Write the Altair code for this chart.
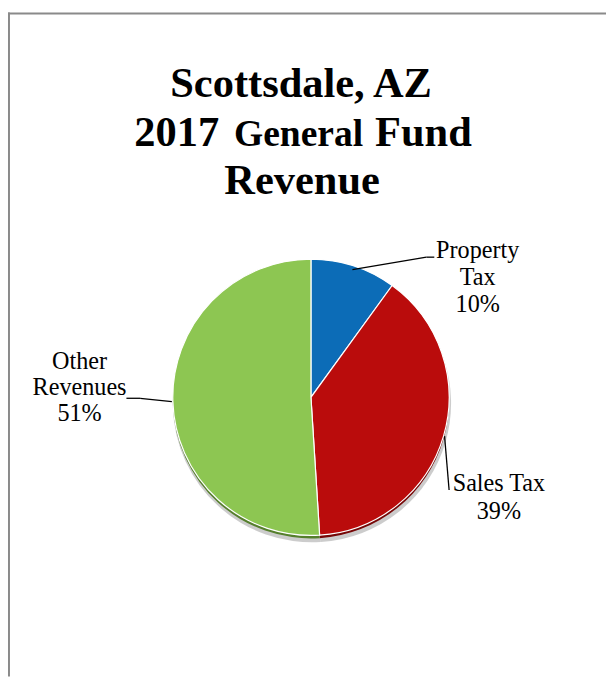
import math
import altair as alt
import pandas as pd

# ---- data ----
categories = ["Property Tax", "Sales Tax", "Other Revenues"]
shares = [10, 39, 51]
label_texts = ["Property\nTax\n10%", "Sales Tax\n39%", "Other\nRevenues\n51%"]
title_parts = ["Scottsdale, AZ", "2017", "General", "Fund", "Revenue"]

# ---- styles ----
slice_colors = ["#0C6CB7", "#BA0C0C", "#8DC652"]
rim_colors = ["#0A4A7E", "#760707", "#557F2C"]
FONT = "Liberation Serif"

W, H = 606, 673
CX, CY, R = 307, 390, 140

df = pd.DataFrame({
    "category": categories,
    "share": shares,
    "order": list(range(len(categories))),
    "label": label_texts,
    "rim": rim_colors,
})

base = alt.Chart(df)
theta = alt.Theta("share:Q", stack=True)
order = alt.Order("order:Q")

shadow = base.mark_arc(radius=R + 1, color="#8f8f8f", opacity=0.45).encode(
    theta=theta, order=order, x=alt.value(CX + 1), y=alt.value(CY + 6)
)
rim = base.mark_arc(radius=R).encode(
    theta=theta, order=order,
    color=alt.Color("rim:N", scale=None),
    x=alt.value(CX), y=alt.value(CY + 3),
)
pie = base.mark_arc(radius=R, stroke="white", strokeWidth=1.2).encode(
    theta=theta, order=order,
    color=alt.Color("category:N", scale=alt.Scale(domain=categories, range=slice_colors), legend=None),
    x=alt.value(CX), y=alt.value(CY),
)

# label layout: (text x, first baseline y, line height, edge radius, elbow points)
layout = {
    "Property Tax": dict(tx=476, ty=249, lh=27.5, r=136, pts=[(424, 248), (432, 248)]),
    "Sales Tax": dict(tx=497.5, ty=485, lh=28, r=141, pts=[(447, 484)]),
    "Other Revenues": dict(tx=72.5, ty=361, lh=26.5, r=141, pts=[(134, 391), (120, 391)]),
}

layers = [shadow, rim, pie]
start = 0.0
for cat, val in zip(categories, shares):
    L = layout[cat]
    a = 2 * math.pi * (start + val / 2) / sum(shares)
    start += val
    ex, ey = CX + L["r"] * math.sin(a), CY - L["r"] * math.cos(a)
    pts = [(ex, ey)] + L["pts"]
    for (x1, y1), (x2, y2) in zip(pts[:-1], pts[1:]):
        layers.append(
            base.transform_filter(alt.datum.category == cat)
            .mark_rule(color="black", strokeWidth=1.3)
            .encode(x=alt.value(x1), y=alt.value(y1), x2=alt.value(x2), y2=alt.value(y2))
        )
    layers.append(
        base.transform_filter(alt.datum.category == cat)
        .mark_text(font=FONT, fontSize=24.5, color="black", align="center",
                   baseline="alphabetic", lineBreak="\n", lineHeight=L["lh"])
        .encode(text="label:N", x=alt.value(L["tx"]), y=alt.value(L["ty"]))
    )

tdf = pd.DataFrame({"part": title_parts})
tbase = alt.Chart(tdf)
title_layout = [
    ("Scottsdale, AZ", 297, 86, 43, "center"),
    ("2017", 214, 135, 43, "right"),
    ("General", 294.5, 135, 38, "center"),
    ("Fund", 372, 135, 43, "left"),
    ("Revenue", 298, 184, 43, "center"),
]
for part, x, y, size, align in title_layout:
    layers.append(
        tbase.transform_filter(alt.datum.part == part)
        .mark_text(font=FONT, fontSize=size, fontWeight="bold", color="black",
                   align=align, baseline="alphabetic")
        .encode(text="part:N", x=alt.value(x), y=alt.value(y))
    )

# frame (top and left edges)
one = alt.Chart(pd.DataFrame({"k": [0]}))
layers.append(one.mark_rule(color="#8a8a8a", strokeWidth=2).encode(
    x=alt.value(0), x2=alt.value(W), y=alt.value(1)))
layers.append(one.mark_rule(color="#8a8a8a", strokeWidth=2).encode(
    x=alt.value(1), y=alt.value(0), y2=alt.value(H)))

chart = alt.layer(*layers).properties(
    width=W, height=H, padding=0, autosize=alt.AutoSizeParams(type="none"),
    background="white",
).configure_view(stroke=None)

chart.save("out.html", embed_options={"renderer": "svg", "actions": False})
